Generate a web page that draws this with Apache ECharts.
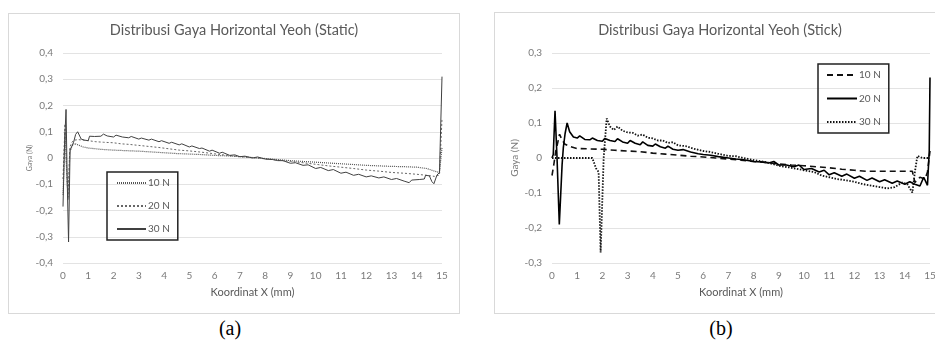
<!DOCTYPE html>
<html>
<head>
<meta charset="utf-8">
<script src="https://cdn.jsdelivr.net/npm/echarts@6/dist/echarts.min.js"></script>
<style>
  html, body { margin: 0; padding: 0; background: #fff; width: 935px; height: 347px; overflow: hidden; }
  .panel { position: absolute; border: 1px solid #d9d9d9; box-sizing: border-box; }
  #chartA { left: 8px; top: 13px; width: 452px; height: 301px; }
  #chartB { left: 494px; top: 12px; width: 452px; height: 302px; }
  .caption { position: absolute; top: 317px; width: 40px; margin-left: -20px; text-align: center;
    font-family: "Liberation Serif", "DejaVu Serif", serif; font-size: 20px; color: #000; }
</style>
</head>
<body>
<div id="chartA" class="panel"></div>
<div id="chartB" class="panel"></div>
<div class="caption" style="left:230px">(a)</div>
<div class="caption" style="left:721px">(b)</div>
<script>
// (a) Static — [x (mm), gaya (N)]
const static10N = [[0,-0.14],[0.08,0.1],[0.15,-0.05],[0.2,-0.16],[0.27,0.02],[0.35,0.045],[0.45,0.055],[0.6,0.05],[0.8,0.042],[1.0,0.038],[1.5,0.033],[2.0,0.03],[2.5,0.028],[3.0,0.026],[3.5,0.023],[4.0,0.02],[4.5,0.017],[5.0,0.015],[5.5,0.013],[6.0,0.01],[6.5,0.008],[7.0,0.005],[7.5,0.002],[8.0,-0.002],[8.5,-0.006],[9.0,-0.01],[9.5,-0.013],[10.0,-0.016],[10.5,-0.019],[11.0,-0.022],[11.5,-0.025],[12.0,-0.028],[12.5,-0.03],[13.0,-0.032],[13.5,-0.033],[14.0,-0.035],[14.4,-0.04],[14.7,-0.05],[14.9,-0.055],[15,0.04]];
const static20N = [[0,-0.08],[0.08,0.13],[0.14,-0.05],[0.2,-0.15],[0.27,0.04],[0.35,0.06],[0.45,0.068],[0.6,0.07],[0.8,0.068],[1.0,0.066],[1.3,0.062],[1.6,0.06],[2.0,0.058],[2.3,0.054],[2.6,0.052],[3.0,0.048],[3.4,0.044],[3.8,0.04],[4.2,0.035],[4.6,0.03],[5.0,0.027],[5.5,0.022],[6.0,0.016],[6.5,0.01],[7.0,0.005],[7.5,0.001],[8.0,-0.003],[8.5,-0.008],[9.0,-0.013],[9.5,-0.018],[10.0,-0.024],[10.5,-0.03],[11.0,-0.035],[11.5,-0.04],[12.0,-0.046],[12.5,-0.05],[13.0,-0.055],[13.5,-0.058],[14.0,-0.062],[14.4,-0.066],[14.7,-0.07],[14.9,-0.065],[15,0.15]];
const static30N = [[0,-0.185],[0.06,0.05],[0.12,0.185],[0.17,-0.1],[0.22,-0.32],[0.28,0.03],[0.35,0.045],[0.42,0.06],[0.5,0.09],[0.58,0.1],[0.65,0.095],[0.72,0.072],[0.85,0.068],[1.0,0.066],[1.05,0.083],[1.25,0.082],[1.5,0.083],[1.6,0.091],[1.75,0.084],[2.0,0.08],[2.1,0.087],[2.35,0.08],[2.6,0.077],[2.7,0.082],[3.0,0.072],[3.1,0.076],[3.4,0.068],[3.5,0.072],[3.8,0.062],[3.9,0.066],[4.2,0.056],[4.3,0.06],[4.6,0.05],[4.7,0.054],[5.0,0.042],[5.1,0.046],[5.4,0.036],[5.5,0.038],[5.8,0.026],[5.9,0.03],[6.2,0.018],[6.3,0.022],[6.6,0.01],[6.8,0.012],[7.0,0.005],[7.2,0.007],[7.5,0.0],[7.7,0.004],[8.0,-0.004],[8.3,-0.006],[8.5,-0.01],[8.7,-0.01],[9.0,-0.02],[9.2,-0.018],[9.5,-0.028],[9.7,-0.026],[10.0,-0.04],[10.2,-0.036],[10.5,-0.048],[10.7,-0.044],[11.0,-0.058],[11.2,-0.054],[11.5,-0.066],[11.7,-0.062],[12.0,-0.072],[12.2,-0.068],[12.5,-0.076],[12.7,-0.072],[13.0,-0.082],[13.2,-0.078],[13.5,-0.088],[13.7,-0.094],[13.8,-0.084],[14.1,-0.082],[14.3,-0.08],[14.35,-0.066],[14.5,-0.068],[14.6,-0.09],[14.68,-0.098],[14.8,-0.065],[14.9,-0.055],[14.97,-0.05],[15,0.31]];

// (b) Stick
const stick10N = [[0,-0.05],[0.07,-0.02],[0.15,0.02],[0.2,0.035],[0.3,0.068],[0.38,0.055],[0.5,0.04],[0.7,0.033],[1.0,0.027],[1.5,0.026],[2.0,0.025],[2.5,0.022],[3.0,0.02],[3.5,0.018],[4.0,0.014],[4.5,0.011],[5.0,0.008],[5.5,0.005],[6.0,0.003],[6.5,0.0],[7.0,-0.003],[7.5,-0.006],[8.0,-0.01],[8.5,-0.013],[9.0,-0.017],[9.5,-0.02],[10.0,-0.022],[10.5,-0.025],[11.0,-0.028],[11.5,-0.032],[12.0,-0.035],[12.5,-0.038],[13.0,-0.038],[13.5,-0.038],[14.0,-0.038],[14.3,-0.038],[14.4,-0.07],[14.6,-0.055],[14.8,-0.06],[14.9,-0.04],[15,0.02]];
const stick20N = [[0,0],[0.05,0.01],[0.12,0.135],[0.2,0.0],[0.29,-0.19],[0.4,-0.02],[0.45,0.03],[0.52,0.07],[0.6,0.1],[0.7,0.075],[0.85,0.06],[1.0,0.057],[1.1,0.063],[1.3,0.053],[1.5,0.052],[1.6,0.057],[1.8,0.05],[2.0,0.048],[2.1,0.056],[2.3,0.05],[2.5,0.047],[2.6,0.055],[2.8,0.046],[3.0,0.042],[3.1,0.05],[3.3,0.042],[3.5,0.038],[3.6,0.046],[3.8,0.036],[4.0,0.034],[4.1,0.04],[4.3,0.032],[4.5,0.028],[4.6,0.034],[4.8,0.025],[5.0,0.022],[5.2,0.024],[5.5,0.017],[5.8,0.012],[6.0,0.01],[6.3,0.008],[6.6,0.004],[7.0,0.0],[7.3,-0.003],[7.6,-0.005],[8.0,-0.01],[8.3,-0.011],[8.6,-0.014],[8.8,-0.01],[9.0,-0.02],[9.3,-0.02],[9.6,-0.025],[9.8,-0.02],[10.0,-0.033],[10.3,-0.03],[10.6,-0.04],[10.8,-0.035],[11.0,-0.048],[11.2,-0.042],[11.5,-0.052],[11.7,-0.046],[12.0,-0.058],[12.2,-0.052],[12.5,-0.064],[12.7,-0.057],[13.0,-0.068],[13.2,-0.062],[13.5,-0.072],[13.7,-0.066],[14.0,-0.075],[14.2,-0.068],[14.4,-0.075],[14.6,-0.08],[14.75,-0.055],[14.9,-0.078],[14.97,0.02],[15,0.23]];
const stick30N = [[0,0],[0.5,0],[1.0,0],[1.6,0],[1.75,-0.03],[1.85,-0.04],[1.93,-0.27],[2.05,0.0],[2.17,0.113],[2.3,0.09],[2.45,0.08],[2.6,0.09],[2.8,0.078],[3.0,0.073],[3.2,0.072],[3.4,0.064],[3.6,0.067],[3.8,0.058],[4.0,0.056],[4.2,0.05],[4.4,0.05],[4.6,0.043],[4.8,0.045],[5.0,0.036],[5.3,0.034],[5.6,0.027],[6.0,0.02],[6.3,0.017],[6.6,0.012],[7.0,0.006],[7.3,0.005],[7.6,0.0],[8.0,-0.006],[8.5,-0.012],[9.0,-0.022],[9.5,-0.028],[10.0,-0.035],[10.4,-0.04],[10.7,-0.05],[11.0,-0.055],[11.3,-0.06],[11.6,-0.063],[12.0,-0.068],[12.3,-0.074],[12.6,-0.078],[13.0,-0.083],[13.3,-0.087],[13.6,-0.083],[13.9,-0.07],[14.1,-0.075],[14.3,-0.099],[14.4,-0.04],[14.5,0.006],[14.7,0.0],[15,0.0]];

const legendNames = ['10 N', '20 N', '30 N'];

const FONT = 'Lato, "Open Sans", sans-serif';
const fmtComma = (v) => (v === 0 ? '0' : String(Math.round(v * 10) / 10).replace('.', ','));

function baseOption(cfg) {
  return {
    animation: false,
    textStyle: { fontFamily: FONT },
    title: {
      text: cfg.title,
      left: 'center',
      top: cfg.titleTop,
      padding: 0,
      textStyle: { fontFamily: FONT, fontSize: 14.5, fontWeight: 'normal', color: '#595959' },
    },
    legend: {
      data: legendNames,
      orient: 'vertical',
      left: cfg.legendLeft,
      top: cfg.legendTop,
      padding: cfg.legendPadding,
      itemWidth: cfg.legendItemWidth,
      itemHeight: 10,
      itemGap: cfg.legendGap,
      borderColor: '#222',
      borderWidth: 1.5,
      itemStyle: { opacity: 0 },
      textStyle: { fontFamily: FONT, fontSize: 10, color: '#595959', padding: [0, 0, 0, -3] },
    },
    grid: { left: cfg.gridLeft, top: cfg.gridTop, width: cfg.gridWidth, height: 210, containLabel: false },
    xAxis: {
      type: 'value',
      min: 0,
      max: 15,
      interval: 1,
      name: 'Koordinat X (mm)',
      nameLocation: 'middle',
      nameGap: 24,
      nameTextStyle: { fontFamily: FONT, fontSize: 11, color: '#595959' },
      axisLine: { show: false, onZero: false },
      axisTick: { show: false },
      splitLine: { show: false },
      axisLabel: { fontFamily: FONT, fontSize: 10, color: '#7a7a7a', margin: 8 },
    },
    yAxis: {
      type: 'value',
      min: cfg.yMin,
      max: cfg.yMax,
      interval: 0.1,
      name: 'Gaya (N)',
      nameLocation: 'middle',
      nameGap: cfg.yNameGap,
      nameMoveOverlap: false,
      nameTextStyle: { fontFamily: FONT, fontSize: cfg.yNameSize, color: '#7a7a7a' },
      axisLine: { show: false },
      axisTick: { show: false },
      splitLine: { lineStyle: { color: '#e3e3e3', width: 1 } },
      axisLabel: { fontFamily: FONT, fontSize: 10, color: '#7a7a7a', margin: 10, formatter: fmtComma },
    },
    series: cfg.series.map((s) => ({
      name: s.name,
      type: 'line',
      data: s.data,
      symbol: 'none',
      smooth: false,
      lineStyle: { color: s.color, width: s.width, type: s.dash },
      itemStyle: { color: s.color },
    })),
  };
}

const chartA = echarts.init(document.getElementById('chartA'));
chartA.setOption(baseOption({
  title: 'Distribusi Gaya Horizontal Yeoh (Static)',
  titleTop: 9,
  legendLeft: 98,
  legendTop: 158,
  legendPadding: [6, 8, 6, 9],
  legendItemWidth: 29,
  legendGap: 13,
  gridLeft: 54,
  gridTop: 39,
  gridWidth: 379,
  yMin: -0.4,
  yMax: 0.4,
  yNameGap: 30,
  yNameSize: 7,
  series: [
    { name: '10 N', data: static10N, color: '#555555', width: 1.2, dash: [1, 1] },
    { name: '20 N', data: static20N, color: '#666666', width: 1, dash: [2, 2] },
    { name: '30 N', data: static30N, color: '#404040', width: 1, dash: 'solid' },
  ],
}));

const chartB = echarts.init(document.getElementById('chartB'));
chartB.setOption(baseOption({
  title: 'Distribusi Gaya Horizontal Yeoh (Stick)',
  titleTop: 10,
  legendLeft: 323,
  legendTop: 51,
  legendPadding: [6, 8, 6, 8],
  legendItemWidth: 30,
  legendGap: 13.5,
  gridLeft: 57,
  gridTop: 40,
  gridWidth: 378,
  yMin: -0.3,
  yMax: 0.3,
  yNameGap: 32,
  yNameSize: 10,
  series: [
    { name: '10 N', data: stick10N, color: '#111111', width: 1.6, dash: [6, 4] },
    { name: '20 N', data: stick20N, color: '#000000', width: 1.6, dash: 'solid' },
    { name: '30 N', data: stick30N, color: '#111111', width: 1.8, dash: [1.5, 1.5] },
  ],
}));
</script>
</body>
</html>
